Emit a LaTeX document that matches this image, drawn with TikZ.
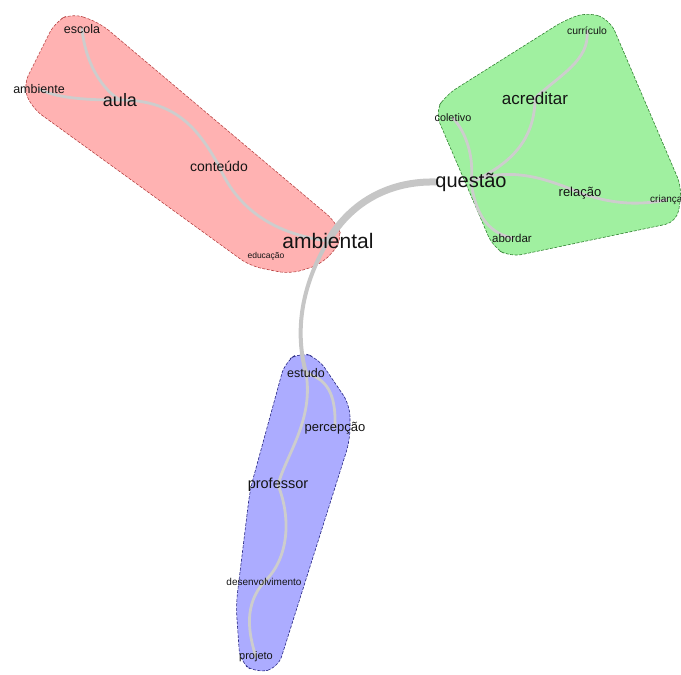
\documentclass[tikz,border=0pt]{standalone}
\usepackage{fontspec}
\setmainfont{Liberation Sans}
\pgfdeclarelayer{hulls}
\pgfdeclarelayer{edges}
\pgfsetlayers{hulls,edges,main}
\definecolor{redfill}{RGB}{255,178,178}
\definecolor{reddraw}{RGB}{185,70,70}
\definecolor{greenfill}{RGB}{160,240,160}
\definecolor{greendraw}{RGB}{50,130,50}
\definecolor{bluefill}{RGB}{172,172,255}
\definecolor{bluedraw}{RGB}{40,40,130}
\definecolor{edgegray}{RGB}{198,198,198}
\definecolor{inedge}{RGB}{205,205,205}
\definecolor{labelcol}{RGB}{20,20,20}
\newcommand\lblsize[1]{\fontsize{#1}{#1}\selectfont}
\begin{document}
\begin{tikzpicture}[x=1pt,y=-1pt,
  lbl/.style={inner sep=0pt, text=labelcol, anchor=center},
  link/.style={draw=inedge, line width=2.8pt, line cap=round},
  hull/.style={dashed, dash pattern=on 3pt off 1.5pt, line width=0.6pt, rounded corners=12pt}]
\useasboundingbox (0,0) rectangle (681,675);
\clip (0,0) rectangle (681,675);

% hulls
\begin{pgfonlayer}{hulls}
\path[hull, fill=redfill, draw=reddraw]
  (72,13) -- (100,23) -- (336,222) -- (343,240) -- (322,264) -- (290,274)
  -- (250,266) -- (32,108) -- (23,86) -- (55,22) -- cycle;
\path[hull, fill=greenfill, draw=greendraw]
  (588,12) -- (610,20) -- (682,188) -- (677,222) -- (510,257)
  -- (493,247) -- (435,112) -- (446,95) -- (565,20) -- cycle;
\path[hull, fill=bluefill, draw=bluedraw]
  (300,352) -- (318,358) -- (350,405) -- (350,440) -- (278,668) -- (256,673)
  -- (240,662) -- (236,605) -- (250,490) -- (285,362) -- cycle;
\end{pgfonlayer}

% labels
\node[lbl] (ambiental) at (328,241) {\lblsize{21}ambiental};
\node[lbl] (questao) at (471,182) {\lblsize{20}questão};
\node[lbl] (aula) at (120,100) {\lblsize{18}aula};
\node[lbl] (acreditar) at (535,98) {\lblsize{17}acreditar};
\node[lbl] (professor) at (278,485) {\lblsize{14.5}professor};
\node[lbl] (conteudo) at (219,166) {\lblsize{14}conteúdo};
\node[lbl] (relacao) at (580,193) {\lblsize{13}relação};
\node[lbl] (percepcao) at (335,428) {\lblsize{13}percepção};
\node[lbl] (estudo) at (306,373) {\lblsize{12.5}estudo};
\node[lbl] (escola) at (82,29) {\lblsize{12.5}escola};
\node[lbl] (ambiente) at (39,89) {\lblsize{12.5}ambiente};
\node[lbl] (abordar) at (512,238) {\lblsize{11.5}abordar};
\node[lbl] (coletivo) at (453,118) {\lblsize{10.8}coletivo};
\node[lbl] (curriculo) at (587,31) {\lblsize{10.4}currículo};
\node[lbl] (desenv) at (264,582) {\lblsize{10}desenvolvimento};
\node[lbl] (projeto) at (256,657) {\lblsize{11}projeto};
\node[lbl] (educacao) at (266,256) {\lblsize{8.5}educação};
\node[lbl, anchor=west] (crianca) at (650,200) {\lblsize{10}criança};

% edges
\begin{pgfonlayer}{edges}
\draw[link, draw=edgegray, line width=7pt] (ambiental.center) .. controls (352,200) and (392,181) .. (questao.west);
\draw[link, draw=edgegray, line width=4pt] (ambiental.center) .. controls (305,280) and (293,325) .. (estudo.center);
\draw[link] (estudo.center) .. controls (330,380) and (336,398) .. (percepcao.center);
\draw[link] (estudo.center) .. controls (314,420) and (286,455) .. (professor.center);
\draw[link] (professor.center) .. controls (292,520) and (288,560) .. (desenv.center);
\draw[link] (desenv.center) .. controls (244,605) and (248,632) .. (projeto.center);
\draw[link] (conteudo.center) .. controls (240,215) and (282,235) .. (ambiental.center);
\draw[link] (aula.center) .. controls (175,100) and (198,128) .. (conteudo.center);
\draw[link] (escola.center) .. controls (85,60) and (100,88) .. (aula.center);
\draw[link] (ambiente.center) .. controls (60,100) and (100,100) .. (aula.center);
\draw[link] (questao.center) .. controls (510,165) and (535,140) .. (acreditar.center);
\draw[link] (acreditar.center) .. controls (560,75) and (590,60) .. (curriculo.center);
\draw[link] (coletivo.center) .. controls (468,135) and (474,160) .. (questao.center);
\draw[link] (questao.center) .. controls (510,165) and (550,180) .. (relacao.center);
\draw[link] (relacao.center) .. controls (615,205) and (640,205) .. (crianca.center);
\draw[link] (questao.center) .. controls (475,210) and (485,232) .. (abordar.center);
\end{pgfonlayer}
\end{tikzpicture}
\end{document}
